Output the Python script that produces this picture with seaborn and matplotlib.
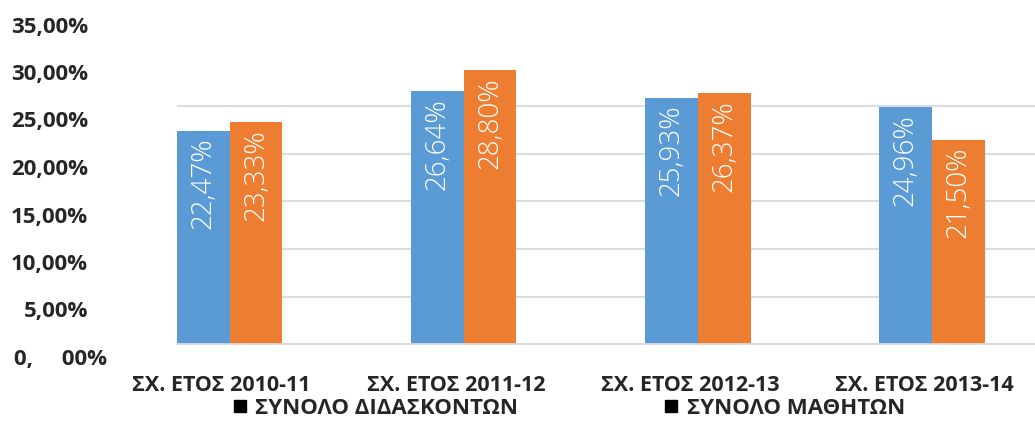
import matplotlib
matplotlib.use("Agg")
import matplotlib.pyplot as plt
import matplotlib.transforms as mtransforms
from matplotlib.lines import Line2D
import pandas as pd
import seaborn as sns

sns.set_style("white")
plt.rcParams["font.family"] = ["Open Sans", "DejaVu Sans"]

years = ["ΣΧ. ΕΤΟΣ 2010-11", "ΣΧ. ΕΤΟΣ 2011-12", "ΣΧ. ΕΤΟΣ 2012-13", "ΣΧ. ΕΤΟΣ 2013-14"]
series = ["ΣΥΝΟΛΟ ΔΙΔΑΣΚΟΝΤΩΝ", "ΣΥΝΟΛΟ ΜΑΘΗΤΩΝ"]
teachers = [22.47, 26.64, 25.93, 24.96]
students = [23.33, 28.80, 26.37, 21.50]
yticks = [0, 5, 10, 15, 20, 25, 30, 35]
ytick_labels = ["0,     00%", "5,00%", "10,00%", "15,00%", "20,00%", "25,00%", "30,00%", "35,00%"]
colors = ["#5B9BD5", "#ED7D31"]

df = pd.DataFrame({
    "year": years * 2,
    "series": [series[0]] * 4 + [series[1]] * 4,
    "value": teachers + students,
})

fig = plt.figure(figsize=(10.35, 4.23), dpi=100)
ax = fig.add_axes([177 / 1035, 79 / 423, 858 / 1035, 342 / 423])

sns.barplot(data=df, x="year", y="value", hue="series", hue_order=series,
            palette=colors, saturation=1, width=0.45, gap=0, legend=False,
            edgecolor="none", ax=ax)

for cont, vals in zip(ax.containers, [teachers, students]):
    anns = ax.bar_label(cont, labels=[f"{v:.2f}%".replace(".", ",") for v in vals],
                        padding=-5, rotation=90, color="white", fontsize=20,
                        fontweight="light")
    for a in anns:
        a.set_verticalalignment("top")

ax.set_xlim(-0.225, 3.44)
ax.set_ylim(0, 36)
ax.set_yticks(yticks)
ax.set_yticklabels(ytick_labels, fontsize=16, fontweight="bold")
ax.set_xlabel("")
ax.set_ylabel("")
ax.tick_params(axis="y", length=0, pad=64)
ax.tick_params(axis="x", length=0, pad=22, labelsize=15.5)
for lbl in ax.get_xticklabels():
    lbl.set_fontweight("bold")

ax.set_axisbelow(True)
ax.yaxis.grid(True, color="#D9D9D9", linewidth=1.3)
for t, v in zip(ax.yaxis.get_major_ticks(), yticks):
    if v == 0 or v > 25:
        t.gridline.set_visible(False)

sns.despine(ax=ax, left=True, right=True, top=True)
ax.spines["bottom"].set_color("#D9D9D9")
ax.spines["bottom"].set_linewidth(1.3)

down = mtransforms.ScaledTranslation(0, -13 / 100, fig.dpi_scale_trans)
for lbl, v in zip(ax.get_yticklabels(), yticks):
    if v == 0:
        lbl.set_transform(lbl.get_transform() + down +
                          mtransforms.ScaledTranslation(19 / 100, 0, fig.dpi_scale_trans))
    else:
        lbl.set_transform(lbl.get_transform() + down)
left = mtransforms.ScaledTranslation(-8 / 100, 0, fig.dpi_scale_trans)
for lbl in ax.get_xticklabels():
    lbl.set_transform(lbl.get_transform() + left)

handles = [Line2D([], [], marker="s", color="black", linestyle="none", markersize=9)
           for _ in series]
fig.legend(handles, series, loc="center", bbox_to_anchor=(568 / 1035, 1 - 408 / 423),
           ncol=2, frameon=False, columnspacing=6.5, handletextpad=0.3,
           handlelength=0.8, prop={"weight": "bold", "size": 16})

fig.savefig("out.png", dpi=100)
